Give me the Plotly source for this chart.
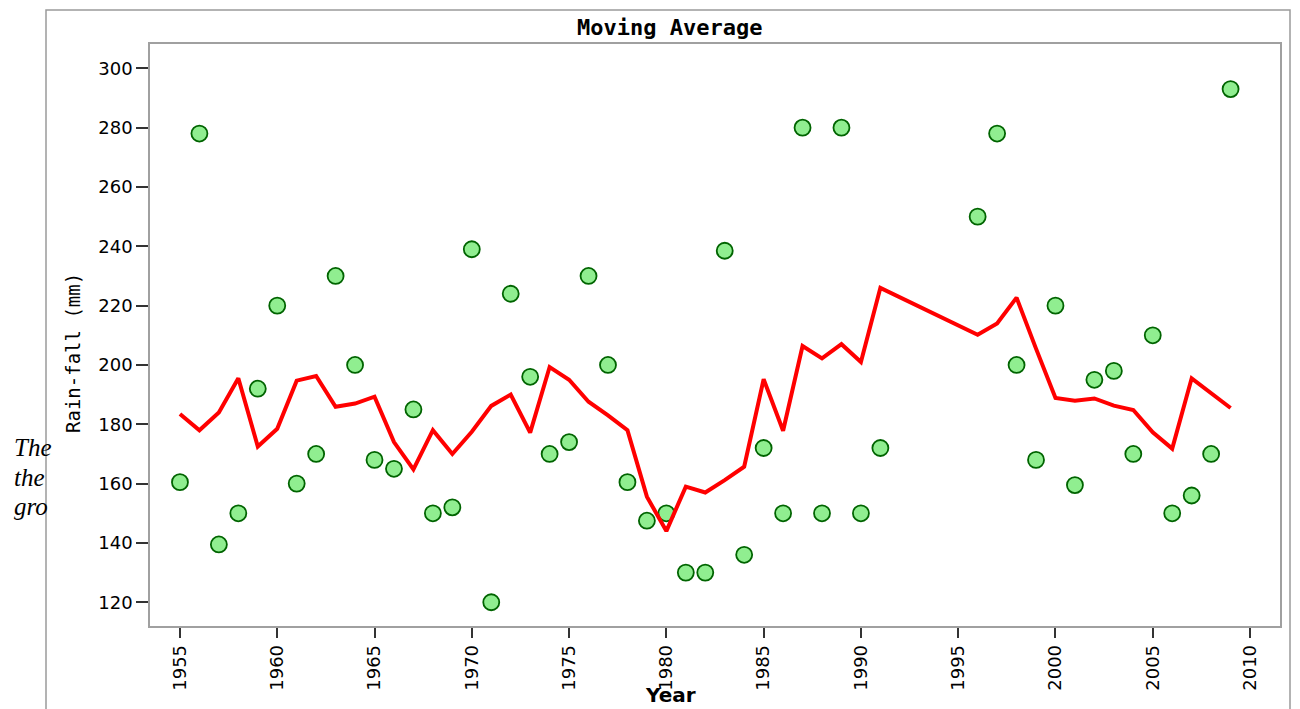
import plotly.graph_objects as go

years = list(range(1955, 1992)) + list(range(1996, 2010))
rainfall = [160.5, 278, 139.5, 150, 192, 220, 160, 170, 230, 200,
            168, 165, 185, 150, 152, 239, 120, 224, 196, 170,
            174, 230, 200, 160.5, 147.5, 150, 130, 130, 238.5, 136,
            172, 150, 280, 150, 280, 150, 172,
            250, 278, 200, 168, 220, 159.5, 195, 198, 170, 210,
            150, 156, 170, 293]
moving_avg = [183.5, 178, 184, 195.5, 172.5, 178.5, 194.7, 196.3, 185.9, 187,
              189.3, 174, 164.8, 178, 170, 177.5, 186.2, 190, 177.2, 199.3,
              195, 187.6, 183, 178, 155.6, 144, 159, 157, 161.2, 165.7,
              195.2, 177.8, 206.4, 202.2, 207, 201, 226,
              210.2, 214, 222.7, 205.5, 188.9, 187.9, 188.7, 186.3, 184.8,
              177.3, 171.8, 195.5, 190.4, 185.5]
x_ticks = [1955, 1960, 1965, 1970, 1975, 1980, 1985, 1990, 1995, 2000, 2005, 2010]
y_ticks = [120, 140, 160, 180, 200, 220, 240, 260, 280, 300]

OFF = 8  # page body margin
W, H = 1300 - OFF, 709 - OFF
L, R, T, B = 150 - OFF, 1300 - 1280, 44 - OFF, 709 - 626
pw, ph = W - L - R, H - T - B

def px(xs):
    return (xs - OFF - L) / pw

def py(ys):
    return (H - B - (ys - OFF)) / ph

fig = go.Figure()
fig.add_trace(go.Scatter(
    x=years, y=rainfall, mode="markers",
    marker=dict(size=16, color="#90EE90", line=dict(color="#006400", width=1.8)),
    showlegend=False, cliponaxis=False))
fig.add_trace(go.Scatter(
    x=years, y=moving_avg, mode="lines",
    line=dict(color="#FF0000", width=4),
    showlegend=False))

tickfont = dict(family="DejaVu Sans", size=18, color="#000000")
fig.update_xaxes(
    range=[1953.46, 2011.54], tickvals=x_ticks, ticktext=[str(v) for v in x_ticks],
    tickangle=-90, ticks="outside", ticklen=10, tickwidth=1.5, tickcolor="#333333",
    showline=True, linecolor="#A0A0A0", linewidth=1.5, mirror=True,
    showgrid=False, zeroline=False, tickfont=tickfont)
fig.update_yaxes(
    range=[112.0, 308.2], tickvals=y_ticks, ticktext=[str(v) for v in y_ticks],
    ticks="outside", ticklen=12, tickwidth=1.5, tickcolor="#333333",
    showline=True, linecolor="#A0A0A0", linewidth=1.5, mirror=True,
    showgrid=False, zeroline=False, tickfont=tickfont)

# outer frame
fig.add_shape(type="rect", xref="paper", yref="paper",
              x0=px(46), x1=px(1290), y0=py(730), y1=py(10),
              line=dict(color="#9A9A9A", width=1.5), fillcolor="rgba(0,0,0,0)", layer="below")

annots = [
    dict(text="Moving Average", x=px(669), y=py(27),
         font=dict(family="DejaVu Sans Mono", size=22, color="#000000", weight="bold")),
    dict(text="Year", x=px(670), y=py(695),
         font=dict(family="DejaVu Sans", size=20, color="#000000", weight="bold")),
    dict(text="Rain-fall (mm)", x=px(73), y=py(353), textangle=-90,
         font=dict(family="DejaVu Sans Mono", size=19, color="#000000")),
]
for a in annots:
    fig.add_annotation(xref="paper", yref="paper", showarrow=False,
                       xanchor="center", yanchor="middle", **a)

for txt, yy in [("The", 447), ("the", 477), ("gro", 506)]:
    fig.add_annotation(xref="paper", yref="paper", showarrow=False,
                       x=px(12), y=py(yy), xanchor="left", yanchor="middle",
                       text=txt,
                       font=dict(family="Liberation Serif", size=25, color="#000000", style="italic"))

fig.update_layout(
    width=W, height=H,
    margin=dict(l=L, r=R, t=T, b=B),
    paper_bgcolor="#FFFFFF", plot_bgcolor="#FFFFFF",
)

fig.write_html("out.html")
